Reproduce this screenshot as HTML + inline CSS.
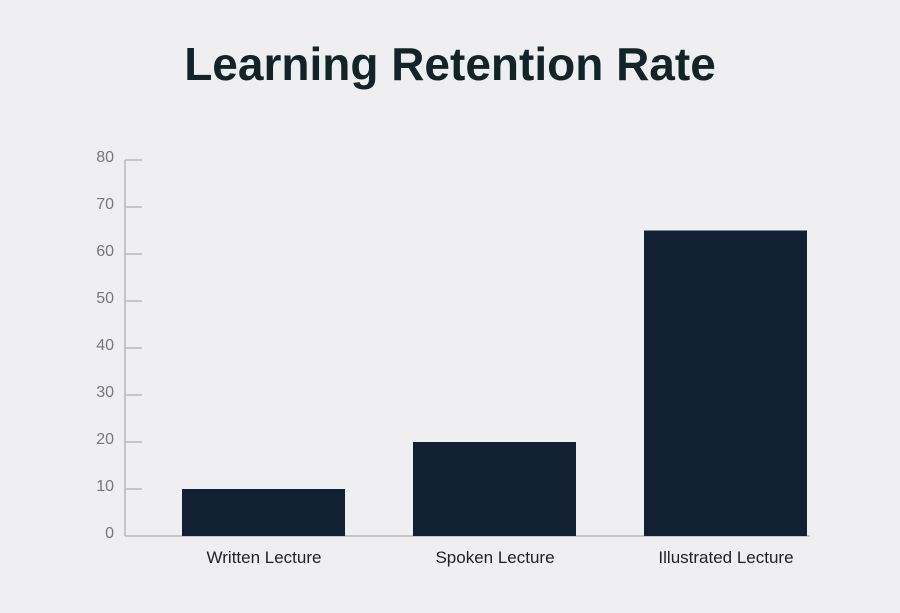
<!DOCTYPE html><html><head><style>body{margin:0;background:#efeff2;}</style></head><body>
<svg width="900" height="613" xmlns="http://www.w3.org/2000/svg" style="display:block">
<rect width="900" height="613" fill="#efeff2"/>
<text x="450" y="80" text-anchor="middle" font-family="Liberation Sans, sans-serif" font-weight="bold" font-size="46" fill="#112529">Learning Retention Rate</text>
<g stroke="#b8b8b8" stroke-width="1.5" fill="none">
<line x1="125" y1="160" x2="125" y2="536"/>
<line x1="125" y1="536" x2="810" y2="536"/>
<line x1="125" y1="160" x2="142" y2="160"/>
<line x1="125" y1="207" x2="142" y2="207"/>
<line x1="125" y1="254" x2="142" y2="254"/>
<line x1="125" y1="301" x2="142" y2="301"/>
<line x1="125" y1="348" x2="142" y2="348"/>
<line x1="125" y1="395" x2="142" y2="395"/>
<line x1="125" y1="442" x2="142" y2="442"/>
<line x1="125" y1="489" x2="142" y2="489"/>
</g>
<g font-family="Liberation Sans, sans-serif" font-size="16" fill="#777" text-anchor="end">
<text x="114" y="162">80</text><text x="114" y="209">70</text><text x="114" y="256">60</text>
<text x="114" y="303">50</text><text x="114" y="350">40</text><text x="114" y="397">30</text>
<text x="114" y="444">20</text><text x="114" y="491">10</text><text x="114" y="538">0</text>
</g>
<g fill="#112032">
<rect x="182" y="489" width="163" height="47"/>
<rect x="413" y="442" width="163" height="94"/>
<rect x="644" y="230.5" width="163" height="305.5"/>
</g>
<g font-family="Liberation Sans, sans-serif" font-size="17" fill="#222" text-anchor="middle">
<text x="264" y="563">Written Lecture</text>
<text x="495" y="563">Spoken Lecture</text>
<text x="726" y="563">Illustrated Lecture</text>
</g>
</svg></body></html>
